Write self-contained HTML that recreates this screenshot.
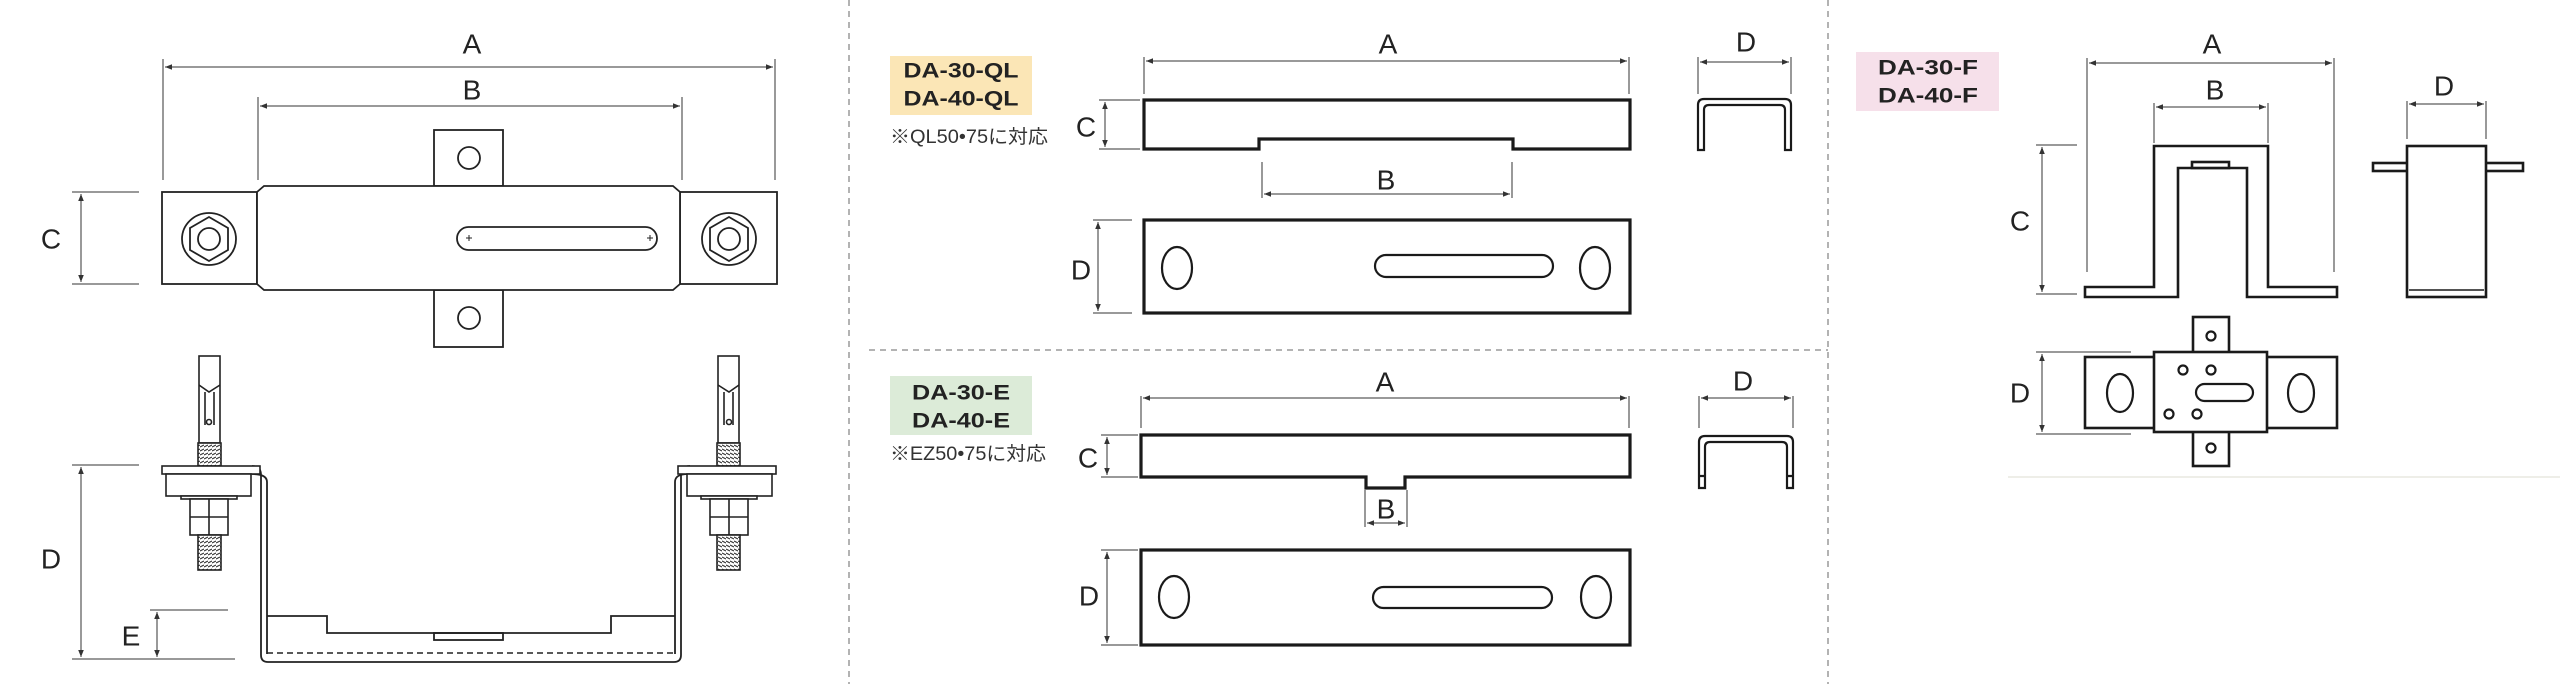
<!DOCTYPE html>
<html><head><meta charset="utf-8"><style>
html,body{margin:0;padding:0;background:#fff;}
svg{display:block;}
.lab{font-family:"Liberation Sans",sans-serif;font-size:28px;fill:#222;text-anchor:middle;dominant-baseline:central;}
.bx{font-family:"Liberation Sans",sans-serif;font-weight:bold;font-size:21px;fill:#222;text-anchor:middle;dominant-baseline:central;}
.nt{font-family:"Liberation Sans","Noto Sans CJK JP",sans-serif;font-size:19px;fill:#333;}
</style></head><body>
<svg width="2560" height="684" viewBox="0 0 2560 684" xmlns="http://www.w3.org/2000/svg">
<defs>
<marker id="ar" viewBox="0 0 10 10" refX="10" refY="5" markerWidth="7" markerHeight="7" orient="auto-start-reverse"><path d="M0,1 L10,5 L0,9 Z" fill="#333"/></marker>
<pattern id="th" width="4" height="4" patternUnits="userSpaceOnUse"><rect width="4" height="4" fill="#fff"/><path d="M0,3 L4,1" stroke="#333" stroke-width="1.2"/></pattern>
</defs>

<g stroke="#9a9a9a" stroke-width="1.5" stroke-dasharray="6,5" fill="none">
<line x1="849" y1="0" x2="849" y2="684"/>
<line x1="1828" y1="0" x2="1828" y2="684"/>
<line x1="869" y1="350" x2="1828" y2="350"/>
</g>
<line x1="2008" y1="477" x2="2560" y2="477" stroke="#eeeee8" stroke-width="2"/>

<!-- LEFT -->
<g stroke="#333" stroke-width="1" fill="none">
<line x1="163" y1="59" x2="163" y2="180"/><line x1="775" y1="59" x2="775" y2="180"/>
<line x1="165" y1="67" x2="773" y2="67" marker-start="url(#ar)" marker-end="url(#ar)"/>
<line x1="258" y1="97" x2="258" y2="180"/><line x1="682" y1="97" x2="682" y2="180"/>
<line x1="260" y1="106" x2="680" y2="106" marker-start="url(#ar)" marker-end="url(#ar)"/>
<line x1="72" y1="192" x2="139" y2="192"/><line x1="72" y1="284" x2="139" y2="284"/>
<line x1="81" y1="194" x2="81" y2="282" marker-start="url(#ar)" marker-end="url(#ar)"/>
<line x1="72" y1="465" x2="139" y2="465"/><line x1="72" y1="659" x2="235" y2="659"/>
<line x1="81" y1="467" x2="81" y2="657" marker-start="url(#ar)" marker-end="url(#ar)"/>
<line x1="150" y1="610" x2="228" y2="610"/>
<line x1="157" y1="612" x2="157" y2="657" marker-start="url(#ar)" marker-end="url(#ar)"/>
</g>
<text class="lab" x="472" y="44">A</text>
<text class="lab" x="472" y="90">B</text>
<text class="lab" x="51" y="239">C</text>
<text class="lab" x="51" y="559">D</text>
<text class="lab" x="131" y="636">E</text>

<g stroke="#222" stroke-width="1.8" fill="#fff">
<rect x="434" y="130" width="69" height="56"/>
<rect x="434" y="290" width="69" height="57"/>
<rect x="162" y="192" width="95" height="92"/>
<rect x="680" y="192" width="97" height="92"/>
<path d="M257,192 L264,186 L673,186 L680,192 L680,284 L673,290 L264,290 L257,284 Z"/>
<ellipse cx="469" cy="158" rx="11" ry="11"/>
<ellipse cx="469" cy="318" rx="11" ry="11"/>
<rect x="457" y="227" width="200" height="23" rx="11.5"/>
<ellipse cx="209" cy="239" rx="27" ry="26"/>
<polygon points="209,217 228,228 228,250 209,261 190,250 190,228"/>
<circle cx="209" cy="239" r="11"/>
<ellipse cx="729" cy="239" rx="27" ry="26"/>
<polygon points="729,217 748,228 748,250 729,261 710,250 710,228"/>
<circle cx="729" cy="239" r="11"/>
</g>
<g stroke="#222" stroke-width="1" fill="none">
<path d="M466,238 h6 M469,235 v6 M647,238 h6 M650,235 v6"/>
</g>

<g stroke="#222" stroke-width="1.8" fill="none">
<path d="M252,466 Q261,466 261,475 L261,655 Q261,662 268,662 L674,662 Q681,662 681,655 L681,475 Q681,466 690,466"/>
<path d="M252,474 Q267,474 267,482 L267,654 M675,654 L675,482 Q675,474 688,474"/>
<path d="M267,616 L327,616 L327,633 L611,633 L611,616 L675,616"/>
<rect x="434" y="633" width="69" height="7"/>
</g>
<path d="M267,653 L675,653" stroke="#222" stroke-width="1.5" stroke-dasharray="6,4" fill="none"/>

<g id="anc" stroke="#222" stroke-width="1.6">
<rect x="199" y="356" width="21" height="87" fill="#fff"/>
<path d="M199,385 L209,392 L220,385 M205,392 L205,425 M214,392 L214,425" fill="none"/>
<circle cx="209" cy="422" r="2.5" fill="#fff"/>
<rect x="198" y="443" width="23" height="23" fill="url(#th)"/>
<rect x="162" y="466" width="98" height="8" fill="#fff"/>
<rect x="166" y="474" width="85" height="22" fill="#fff"/>
<rect x="181" y="496" width="56" height="3" fill="#fff"/>
<rect x="190" y="499" width="38" height="36" fill="#fff"/>
<path d="M209,499 V535 M190,517 H228" fill="none"/>
<rect x="198" y="535" width="23" height="35" fill="url(#th)"/>
</g>
<use href="#anc" transform="translate(938,0) scale(-1,1)"/>

<!-- MIDDLE -->
<rect x="890" y="56" width="142" height="59" fill="#fbe6b6"/>
<text class="bx" x="961" y="71" textLength="115" lengthAdjust="spacingAndGlyphs">DA-30-QL</text>
<text class="bx" x="961" y="99" textLength="115" lengthAdjust="spacingAndGlyphs">DA-40-QL</text>
<text class="nt" x="890" y="143" textLength="158" lengthAdjust="spacingAndGlyphs">※QL50•75に対応</text>

<rect x="890" y="376" width="142" height="59" fill="#dcebd8"/>
<text class="bx" x="961" y="393" textLength="98" lengthAdjust="spacingAndGlyphs">DA-30-E</text>
<text class="bx" x="961" y="421" textLength="98" lengthAdjust="spacingAndGlyphs">DA-40-E</text>
<text class="nt" x="890" y="460" textLength="156" lengthAdjust="spacingAndGlyphs">※EZ50•75に対応</text>

<g stroke="#333" stroke-width="1" fill="none">
<line x1="1144" y1="57" x2="1144" y2="94"/><line x1="1629" y1="57" x2="1629" y2="94"/>
<line x1="1146" y1="61" x2="1627" y2="61" marker-start="url(#ar)" marker-end="url(#ar)"/>
<line x1="1099" y1="100" x2="1140" y2="100"/><line x1="1099" y1="149" x2="1140" y2="149"/>
<line x1="1105" y1="102" x2="1105" y2="147" marker-start="url(#ar)" marker-end="url(#ar)"/>
<line x1="1262" y1="162" x2="1262" y2="198"/><line x1="1512" y1="162" x2="1512" y2="198"/>
<line x1="1264" y1="194" x2="1510" y2="194" marker-start="url(#ar)" marker-end="url(#ar)"/>
<line x1="1698" y1="57" x2="1698" y2="94"/><line x1="1791" y1="57" x2="1791" y2="94"/>
<line x1="1700" y1="62" x2="1789" y2="62" marker-start="url(#ar)" marker-end="url(#ar)"/>
<line x1="1093" y1="220" x2="1132" y2="220"/><line x1="1093" y1="313" x2="1132" y2="313"/>
<line x1="1098" y1="222" x2="1098" y2="311" marker-start="url(#ar)" marker-end="url(#ar)"/>

<line x1="1141" y1="396" x2="1141" y2="428"/><line x1="1629" y1="396" x2="1629" y2="428"/>
<line x1="1143" y1="398" x2="1627" y2="398" marker-start="url(#ar)" marker-end="url(#ar)"/>
<line x1="1101" y1="435" x2="1138" y2="435"/><line x1="1101" y1="477" x2="1138" y2="477"/>
<line x1="1107" y1="437" x2="1107" y2="475" marker-start="url(#ar)" marker-end="url(#ar)"/>
<line x1="1365" y1="490" x2="1365" y2="527"/><line x1="1407" y1="490" x2="1407" y2="527"/>
<line x1="1367" y1="523" x2="1405" y2="523" marker-start="url(#ar)" marker-end="url(#ar)"/>
<line x1="1699" y1="396" x2="1699" y2="428"/><line x1="1793" y1="396" x2="1793" y2="428"/>
<line x1="1701" y1="398" x2="1791" y2="398" marker-start="url(#ar)" marker-end="url(#ar)"/>
<line x1="1101" y1="550" x2="1138" y2="550"/><line x1="1101" y1="645" x2="1138" y2="645"/>
<line x1="1107" y1="552" x2="1107" y2="643" marker-start="url(#ar)" marker-end="url(#ar)"/>
</g>
<text class="lab" x="1388" y="44">A</text>
<text class="lab" x="1086" y="127">C</text>
<text class="lab" x="1386" y="180">B</text>
<text class="lab" x="1746" y="42">D</text>
<text class="lab" x="1081" y="270">D</text>
<text class="lab" x="1385" y="382">A</text>
<text class="lab" x="1088" y="458">C</text>
<text class="lab" x="1386" y="509">B</text>
<text class="lab" x="1743" y="381">D</text>
<text class="lab" x="1089" y="596">D</text>

<g stroke="#1a1a1a" stroke-width="3.2" fill="#fff">
<path d="M1144,100 L1630,100 L1630,149 L1513,149 L1513,139 L1259,139 L1259,149 L1144,149 Z"/>
<rect x="1144" y="220" width="486" height="93"/>
<path d="M1141,435 L1630,435 L1630,477 L1405,477 L1405,488 L1366,488 L1366,477 L1141,477 Z"/>
<rect x="1141" y="550" width="489" height="95"/>
</g>
<g stroke="#1a1a1a" stroke-width="2.2" fill="none">
<ellipse cx="1177" cy="268" rx="15" ry="21"/><ellipse cx="1595" cy="268" rx="15" ry="21"/>
<rect x="1375" y="255" width="178" height="22" rx="11"/>
<ellipse cx="1174" cy="597" rx="15" ry="21"/><ellipse cx="1596" cy="597" rx="15" ry="21"/>
<rect x="1373" y="587" width="179" height="21" rx="10.5"/>
<path d="M1698,150 L1698,105 Q1698,99 1704,99 L1785,99 Q1791,99 1791,105 L1791,150 L1785,150 L1785,110 Q1785,105 1780,105 L1709,105 Q1704,105 1704,110 L1704,150 Z"/>
<path d="M1699,488 L1699,442 Q1699,436 1705,436 L1787,436 Q1793,436 1793,442 L1793,488 L1787,488 L1787,447 Q1787,442 1782,442 L1710,442 Q1705,442 1705,447 L1705,488 Z M1699,476 H1705 M1787,476 H1793"/>
</g>

<!-- RIGHT -->
<rect x="1856" y="52" width="143" height="59" fill="#f6e0ea"/>
<text class="bx" x="1928" y="68" textLength="100" lengthAdjust="spacingAndGlyphs">DA-30-F</text>
<text class="bx" x="1928" y="96" textLength="100" lengthAdjust="spacingAndGlyphs">DA-40-F</text>

<g stroke="#333" stroke-width="1" fill="none">
<line x1="2087" y1="58" x2="2087" y2="272"/><line x1="2334" y1="58" x2="2334" y2="272"/>
<line x1="2089" y1="63" x2="2332" y2="63" marker-start="url(#ar)" marker-end="url(#ar)"/>
<line x1="2154" y1="103" x2="2154" y2="143"/><line x1="2268" y1="103" x2="2268" y2="143"/>
<line x1="2156" y1="107" x2="2266" y2="107" marker-start="url(#ar)" marker-end="url(#ar)"/>
<line x1="2036" y1="145" x2="2077" y2="145"/><line x1="2036" y1="294" x2="2077" y2="294"/>
<line x1="2042" y1="147" x2="2042" y2="292" marker-start="url(#ar)" marker-end="url(#ar)"/>
<line x1="2407" y1="101" x2="2407" y2="139"/><line x1="2486" y1="101" x2="2486" y2="139"/>
<line x1="2409" y1="104" x2="2484" y2="104" marker-start="url(#ar)" marker-end="url(#ar)"/>
<line x1="2036" y1="352" x2="2131" y2="352"/><line x1="2036" y1="434" x2="2131" y2="434"/>
<line x1="2042" y1="354" x2="2042" y2="432" marker-start="url(#ar)" marker-end="url(#ar)"/>
</g>
<text class="lab" x="2212" y="44">A</text>
<text class="lab" x="2215" y="90">B</text>
<text class="lab" x="2020" y="221">C</text>
<text class="lab" x="2444" y="86">D</text>
<text class="lab" x="2020" y="393">D</text>

<g stroke="#1a1a1a" stroke-width="2.6" fill="#fff">
<path d="M2085,287 L2154,287 L2154,146 L2268,146 L2268,287 L2337,287 L2337,297 L2247,297 L2247,168 L2178,168 L2178,297 L2085,297 Z"/>
<rect x="2192" y="162" width="37" height="6"/>
<rect x="2373" y="163" width="150" height="8"/>
<rect x="2407" y="146" width="79" height="151"/>
<line x1="2409" y1="290" x2="2484" y2="290" stroke-width="1.5"/>
<rect x="2193" y="317" width="36" height="149"/>
<rect x="2085" y="357" width="252" height="71"/>
<rect x="2154" y="352" width="113" height="80"/>
</g>
<g stroke="#1a1a1a" stroke-width="2.2" fill="none">
<circle cx="2211" cy="336" r="4.5"/><circle cx="2211" cy="448" r="4.5"/>
<circle cx="2183" cy="370" r="4.5"/><circle cx="2211" cy="370" r="4.5"/>
<circle cx="2169" cy="414" r="4.5"/><circle cx="2197" cy="414" r="4.5"/>
<rect x="2196" y="384" width="57" height="17" rx="8.5"/>
<ellipse cx="2120" cy="393" rx="13" ry="19"/><ellipse cx="2301" cy="393" rx="13" ry="19"/>
</g>
</svg>
</body></html>
